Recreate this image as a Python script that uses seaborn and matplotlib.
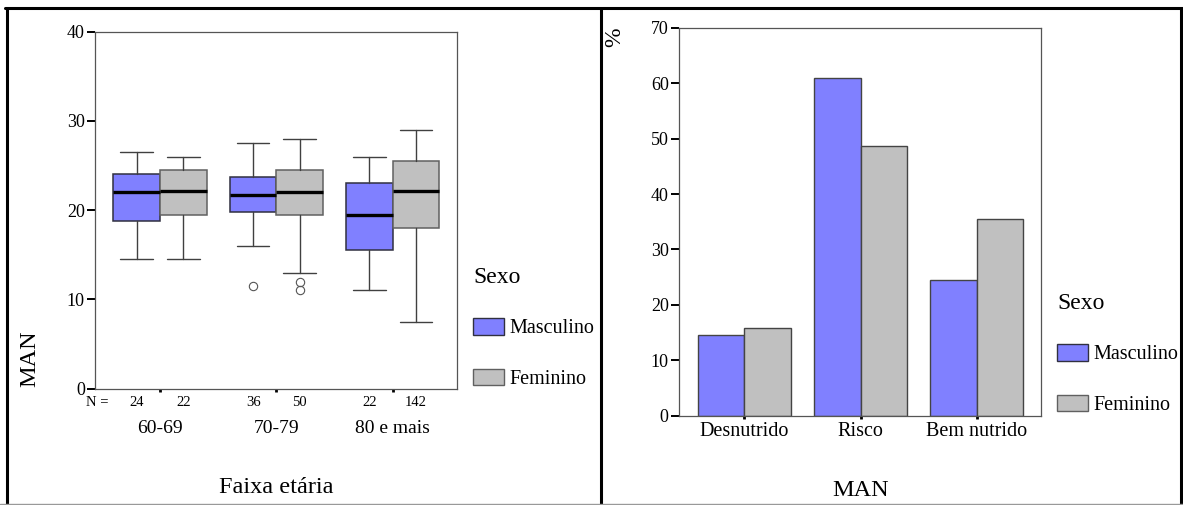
import numpy as np
import pandas as pd
import seaborn as sns
import matplotlib.pyplot as plt
from matplotlib.patches import Patch
from matplotlib.lines import Line2D

# -----------------------------
# Data
# -----------------------------
faixas = ['60-69', '70-79', '80 e mais']
sexos = ['Masculino', 'Feminino']
n_masc = [24, 36, 22]
n_fem = [22, 50, 142]

# MAN score box stats per age group
masc_q1 = [18.8, 19.8, 15.5]
masc_med = [22.0, 21.7, 19.5]
masc_q3 = [24.0, 23.7, 23.0]
masc_lo = [14.5, 16.0, 11.0]
masc_hi = [26.5, 27.5, 26.0]
masc_out = [[], [11.5], []]

fem_q1 = [19.5, 19.5, 18.0]
fem_med = [22.2, 22.0, 22.2]
fem_q3 = [24.5, 24.5, 25.5]
fem_lo = [14.5, 13.0, 7.5]
fem_hi = [26.0, 28.0, 29.0]
fem_out = [[], [12.0, 11.0], []]

# MAN classification, % by sex
man_cats = ['Desnutrido', 'Risco', 'Bem nutrido']
pct_masc = [14.6, 61.0, 24.4]
pct_fem = [15.9, 48.6, 35.5]

blue = '#8080ff'
gray = '#c0c0c0'

# -----------------------------
# Styling
# -----------------------------
sns.set_theme(style='white')
plt.rcParams['font.family'] = ['Liberation Serif', 'DejaVu Serif']
plt.rcParams['text.color'] = 'black'
plt.rcParams['axes.labelcolor'] = 'black'

fig = plt.figure(figsize=(11.83, 5.05), dpi=100)
ax1 = fig.add_axes([0.0803, 0.2305, 0.3057, 0.7067])
ax2 = fig.add_axes([0.5738, 0.1768, 0.3065, 0.7683])


def style_axes(ax):
    for s in ax.spines.values():
        s.set_color('#555555')
        s.set_linewidth(0.9)
    ax.tick_params(axis='y', length=5.8, width=1.4, pad=1.5, labelsize=13,
                   colors='black', left=True)
    ax.tick_params(axis='x', length=2.2, width=2, colors='black', bottom=True)


# -----------------------------
# Left: boxplots by age group
# -----------------------------
def box_stats(q1, med, q3, lo, hi, out):
    return [dict(q1=q1[i], med=med[i], q3=q3[i], whislo=lo[i], whishi=hi[i],
                 fliers=out[i]) for i in range(len(q1))]


pos = np.arange(len(faixas))
for stats, offs, fc, ec in [
        (box_stats(masc_q1, masc_med, masc_q3, masc_lo, masc_hi, masc_out), -0.2, blue, '#303040'),
        (box_stats(fem_q1, fem_med, fem_q3, fem_lo, fem_hi, fem_out), 0.2, gray, '#606060')]:
    ax1.bxp(stats, positions=pos + offs, widths=0.4, capwidths=0.28,
            patch_artist=True, manage_ticks=False,
            boxprops=dict(facecolor=fc, edgecolor=ec, linewidth=1.1),
            medianprops=dict(color='black', linewidth=2.4),
            whiskerprops=dict(color='#404040', linewidth=1),
            capprops=dict(color='#404040', linewidth=1),
            flierprops=dict(marker='o', markerfacecolor='none',
                            markeredgecolor='#555555', markersize=6,
                            markeredgewidth=0.8))

ax1.set_ylim(0, 40)
ax1.set_xlim(-0.559, 2.55)
ax1.set_yticks([0, 10, 20, 30, 40])
ax1.set_xticks(pos)
ax1.set_xticklabels(faixas, fontsize=14)
style_axes(ax1)
ax1.tick_params(axis='x', pad=20.5)

# N counts under each box
for i in range(len(faixas)):
    ax1.text(i - 0.2, -0.039, str(n_masc[i]), transform=ax1.get_xaxis_transform(),
             ha='center', va='center', fontsize=10.5)
    ax1.text(i + 0.2, -0.039, str(n_fem[i]), transform=ax1.get_xaxis_transform(),
             ha='center', va='center', fontsize=10.5)
ax1.text(-0.54, -0.039, 'N =', transform=ax1.get_xaxis_transform(),
         ha='center', va='center', fontsize=10.5)

ax1.set_xlabel('Faixa etária', fontsize=17.5, va='center')
ax1.xaxis.set_label_coords(0.5, -0.2785)
ax1.set_ylabel('MAN', fontsize=17.5, va='center')
ax1.yaxis.set_label_coords(-0.18, 0.083)

# -----------------------------
# Right: % by MAN class
# -----------------------------
df = pd.DataFrame({
    'MAN': man_cats * 2,
    'Sexo': [sexos[0]] * 3 + [sexos[1]] * 3,
    'pct': pct_masc + pct_fem,
})
sns.barplot(data=df, x='MAN', y='pct', hue='Sexo', order=man_cats,
            hue_order=sexos, palette=[blue, gray], saturation=1,
            edgecolor='#444444', linewidth=1, errorbar=None, legend=False,
            ax=ax2)
ax2.set_ylim(0, 70)
ax2.set_xlim(-0.564, 2.557)
ax2.set_yticks(np.arange(0, 71, 10))
ax2.set_xticks(range(len(man_cats)))
ax2.set_xticklabels(man_cats, fontsize=14.5)
style_axes(ax2)
ax2.tick_params(axis='x', pad=2.6)

ax2.set_xlabel('MAN', fontsize=17.5, va='center')
ax2.xaxis.set_label_coords(0.5, -0.1915)
ax2.set_ylabel('%', fontsize=17, va='center')
ax2.yaxis.set_label_coords(-0.176, 0.976)

# -----------------------------
# Legends
# -----------------------------
handles = [Patch(facecolor=blue, edgecolor='#303040', linewidth=1),
           Patch(facecolor=gray, edgecolor='#606060', linewidth=1)]
for ax, (lx, ly) in [(ax1, (0.3914, 0.491)), (ax2, (0.885, 0.4396))]:
    ax.legend(handles=handles, labels=sexos, title='Sexo', loc='upper left',
              bbox_to_anchor=(lx, ly), bbox_transform=fig.transFigure,
              frameon=False, borderpad=0, fontsize=14.5, title_fontsize=17,
              alignment='left', handlelength=1.55, handleheight=0.875,
              handletextpad=0.25, labelspacing=1.5, labelcolor='black')

# -----------------------------
# Panel frames
# -----------------------------
frame = dict(transform=fig.transFigure, color='black', lw=2.2)
fig.add_artist(Line2D([0.004, 1.0], [0.9836, 0.9836], **frame))
fig.add_artist(Line2D([0.0059, 0.0059], [0.0, 0.9836], **frame))
fig.add_artist(Line2D([0.5083, 0.5083], [0.0, 0.9836], **frame))
fig.add_artist(Line2D([0.9983, 0.9983], [0.0, 0.9836], **frame))
fig.add_artist(Line2D([0.0, 1.0], [0.002, 0.002], transform=fig.transFigure,
                      color='#999999', lw=1))

fig.savefig('out.png', dpi=100)
plt.close(fig)
